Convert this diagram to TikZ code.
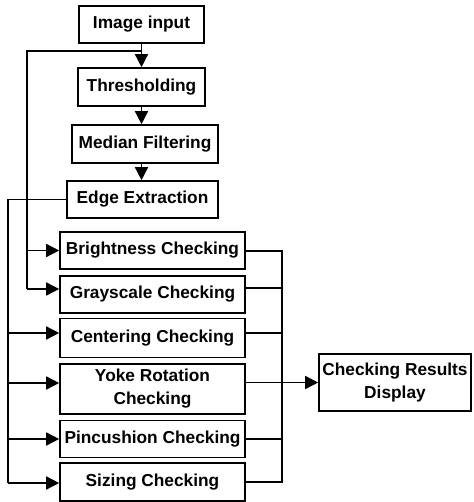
\documentclass[tikz,border=0pt]{standalone}
\usepackage{fontspec}
\setmainfont{Liberation Sans}
\usetikzlibrary{arrows.meta,calc}
\tikzset{
  box/.style={draw, line width=1.6pt, inner sep=0pt, align=center,
    font=\fontsize{17.3}{23}\selectfont\bfseries},
  chk/.style={box, minimum width=185pt, minimum height=37pt},
  conn/.style={line width=1.5pt},
  arr/.style={conn, -{Triangle[length=13pt,width=13pt]}},
}
\begin{document}
\begin{tikzpicture}[x=1pt,y=-1pt]
\useasboundingbox (0,0) rectangle (473,502);
% main chain
\node[box, minimum width=125pt, minimum height=37pt] (img) at (141.5,24.5) {Image input};
\node[box, minimum width=127pt, minimum height=38pt] (thr) at (141.5,87) {Thresholding};
\node[box, minimum width=146pt, minimum height=38pt] (med) at (145,144) {Median Filtering};
\node[box, minimum width=151pt, minimum height=37pt] (edge) at (142.5,199.5) {Edge Extraction};
% checks
\node[chk] (bri) at (152.5,250.5) {Brightness Checking};
\node[chk] (gray) at (152.5,294.5) {Grayscale Checking};
\node[chk, minimum height=39pt] (cen) at (152.5,338) {Centering Checking};
\node[chk, minimum height=50pt] (yoke) at (152.5,389) {Yoke Rotation\\Checking};
\node[chk] (pin) at (152.5,439) {Pincushion Checking};
\node[chk, minimum height=38pt] (siz) at (152.5,482) {Sizing Checking};
% result
\node[box, minimum width=152pt, minimum height=57pt] (res) at (395,382.5) {Checking Results\\Display};
% vertical chain arrows
\draw[arr] (img.south) -- (thr.north);
\draw[arr] (thr.south) -- (thr.south |- med.north);
\draw[arr] (thr.south |- med.south) -- (thr.south |- edge.north);
% branch from image input
\coordinate (ta) at (141.5,51);
\coordinate (tb) at (27,51);
\coordinate (tc) at (27,289);
\draw[conn] (ta) -- (tb) -- (tc);
\draw[arr] (tb |- bri.west) -- (bri.west);
\draw[arr] (tc) -- (tc -| gray.west);
% branch from edge extraction
\coordinate (ea) at (8,199.5);
\coordinate (eb) at (8,483);
\draw[conn] (edge.west) -- (ea) -- (eb);
\draw[arr] (ea |- 0,333) coordinate (e1) -- (e1 -| cen.west);
\draw[arr] (ea |- 0,383) coordinate (e2) -- (e2 -| yoke.west);
\draw[arr] (ea |- pin.west) -- (pin.west);
\draw[arr] (eb) -- (eb -| siz.west);
% right bus
\coordinate (ra) at (282,251);
\coordinate (rb) at (282,482);
\draw[conn] (bri.east |- ra) -- (ra) -- (rb) -- (rb -| siz.east);
\draw[conn] (gray.east |- 0,288) coordinate (r1) -- (r1 -| ra);
\draw[conn] (cen.east |- 0,333) coordinate (r2) -- (r2 -| ra);
\draw[conn] (pin.east) -- (pin.east -| ra);
\draw[arr] (yoke.east |- res.west) -- (res.west);
\end{tikzpicture}
\end{document}
